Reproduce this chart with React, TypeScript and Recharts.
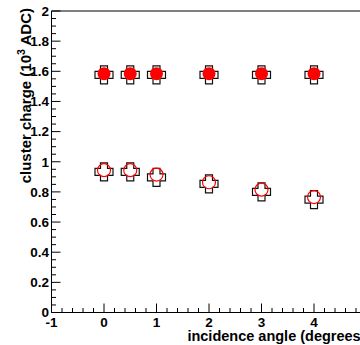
import React from 'react';
import { ScatterChart, Scatter, XAxis, YAxis, ReferenceLine } from 'recharts';

const angles = [0, 0.5, 1, 2, 3, 4];
const crossHigh = [1.576, 1.576, 1.576, 1.576, 1.576, 1.576];
const circleHigh = [1.584, 1.584, 1.584, 1.584, 1.584, 1.584];
const crossLow = [0.933, 0.933, 0.896, 0.853, 0.8, 0.749];
const circleLow = [0.944, 0.944, 0.915, 0.864, 0.815, 0.766];

const xMajorTicks = [-1, 0, 1, 2, 3, 4, 5];
const yMajorTicks = [0, 0.2, 0.4, 0.6, 0.8, 1, 1.2, 1.4, 1.6, 1.8, 2];
const xTitle = 'incidence angle (degrees)';
const yTitleMain = 'cluster charge (10';
const yTitleSup = '3';
const yTitleEnd = ' ADC)';

const FONT = '"Liberation Sans", Arial, Helvetica, sans-serif';
const CHART_W = 380;
const CHART_H = 345;
const MARGIN = { top: 11, right: 13.5, bottom: 0, left: 0 };
const Y_AXIS_W = 51.5;
const X_AXIS_H = 32.5;
const PLOT_LEFT = MARGIN.left + Y_AXIS_W;
const PLOT_BOTTOM = CHART_H - MARGIN.bottom - X_AXIS_H;
const PLOT_RIGHT = CHART_W - MARGIN.right;

const round = (v: number) => Math.round(v * 1000) / 1000;
const buildTicks = (majors: number[], sub: number) => {
  const out: number[] = [];
  for (let i = 0; i < majors.length - 1; i++) {
    const a = majors[i];
    const b = majors[i + 1];
    for (let k = 0; k < sub; k++) out.push(round(a + ((b - a) * k) / sub));
  }
  out.push(majors[majors.length - 1]);
  return out;
};
const xTicks = buildTicks(xMajorTicks, 5);
const yTicks = buildTicks(yMajorTicks, 4);
const isMajor = (v: number, majors: number[]) => majors.some((m) => Math.abs(m - v) < 1e-6);

const toData = (ys: number[]) => angles.map((x, i) => ({ x, y: ys[i] }));

const XTick = (props: any) => {
  const { x, payload } = props;
  const major = isMajor(payload.value, xMajorTicks);
  return (
    <g>
      <line x1={x} x2={x} y1={PLOT_BOTTOM} y2={PLOT_BOTTOM - (major ? 9 : 4.5)} stroke="#000" strokeWidth={1} />
      {major && (
        <text x={x} y={327} textAnchor="middle" fontFamily={FONT} fontWeight="bold" fontSize={13.5} fill="#000">
          {String(payload.value)}
        </text>
      )}
    </g>
  );
};

const YTick = (props: any) => {
  const { y, payload } = props;
  const major = isMajor(payload.value, yMajorTicks);
  return (
    <g>
      <line x1={PLOT_LEFT} x2={PLOT_LEFT + (major ? 9 : 4.5)} y1={y} y2={y} stroke="#000" strokeWidth={1} />
      {major && (
        <text x={PLOT_LEFT - 2.5} y={y + 4.8} textAnchor="end" fontFamily={FONT} fontWeight="bold" fontSize={13.5} fill="#000">
          {String(payload.value)}
        </text>
      )}
    </g>
  );
};

const CrossShape = (props: any) => {
  const { cx, cy } = props;
  const h = 9;
  const a = 3.5;
  const pts = [
    [cx - a, cy - h], [cx + a, cy - h], [cx + a, cy - a], [cx + h, cy - a],
    [cx + h, cy + a], [cx + a, cy + a], [cx + a, cy + h], [cx - a, cy + h],
    [cx - a, cy + a], [cx - h, cy + a], [cx - h, cy - a], [cx - a, cy - a],
  ].map((p) => p.join(',')).join(' ');
  return <polygon points={pts} fill="#fff" stroke="#111" strokeWidth={1.2} />;
};

const FilledCircle = (props: any) => (
  <circle cx={props.cx} cy={props.cy} r={6.5} fill="#ff0000" stroke="none" />
);
const OpenCircle = (props: any) => (
  <circle cx={props.cx} cy={props.cy} r={6.5} fill="none" stroke="#ff0000" strokeWidth={1.2} />
);

const XTitle = () => (
  <text x={PLOT_RIGHT - 1} y={341} textAnchor="end" fontFamily={FONT} fontWeight="bold" fontSize={14.5} fill="#000">
    {xTitle}
  </text>
);

const YTitle = () => (
  <text transform="rotate(-90)" x={-8} y={31} textAnchor="end" fontFamily={FONT} fontWeight="bold" fontSize={15} fill="#000">
    {yTitleMain}
    <tspan dy={-6} fontSize={10.5}>{yTitleSup}</tspan>
    <tspan dy={6}>{yTitleEnd}</tspan>
  </text>
);

export default function App() {
  return (
    <div style={{ position: 'fixed', left: 0, top: 0, width: 360, height: 345, overflow: 'hidden', background: '#fff' }}>
      <ScatterChart width={CHART_W} height={CHART_H} margin={MARGIN}>
        <XAxis
          type="number"
          dataKey="x"
          domain={[-1, 5]}
          ticks={xTicks}
          interval={0}
          tick={<XTick />}
          tickLine={false}
          axisLine={{ stroke: '#000', strokeWidth: 1 }}
          height={X_AXIS_H}
          allowDataOverflow
          label={{ content: () => <XTitle /> }}
        />
        <YAxis
          type="number"
          dataKey="y"
          domain={[0, 2]}
          ticks={yTicks}
          interval={0}
          tick={<YTick />}
          tickLine={false}
          axisLine={{ stroke: '#000', strokeWidth: 1 }}
          width={Y_AXIS_W}
          allowDataOverflow
          label={{ content: () => <YTitle /> }}
        />
        <ReferenceLine y={2} stroke="#000" strokeWidth={1} />
        <ReferenceLine x={5} stroke="#000" strokeWidth={1} />
        <Scatter data={toData(crossHigh)} shape={<CrossShape />} isAnimationActive={false} />
        <Scatter data={toData(circleHigh)} shape={<FilledCircle />} isAnimationActive={false} />
        <Scatter data={toData(crossLow)} shape={<CrossShape />} isAnimationActive={false} />
        <Scatter data={toData(circleLow)} shape={<OpenCircle />} isAnimationActive={false} />
      </ScatterChart>
    </div>
  );
}
